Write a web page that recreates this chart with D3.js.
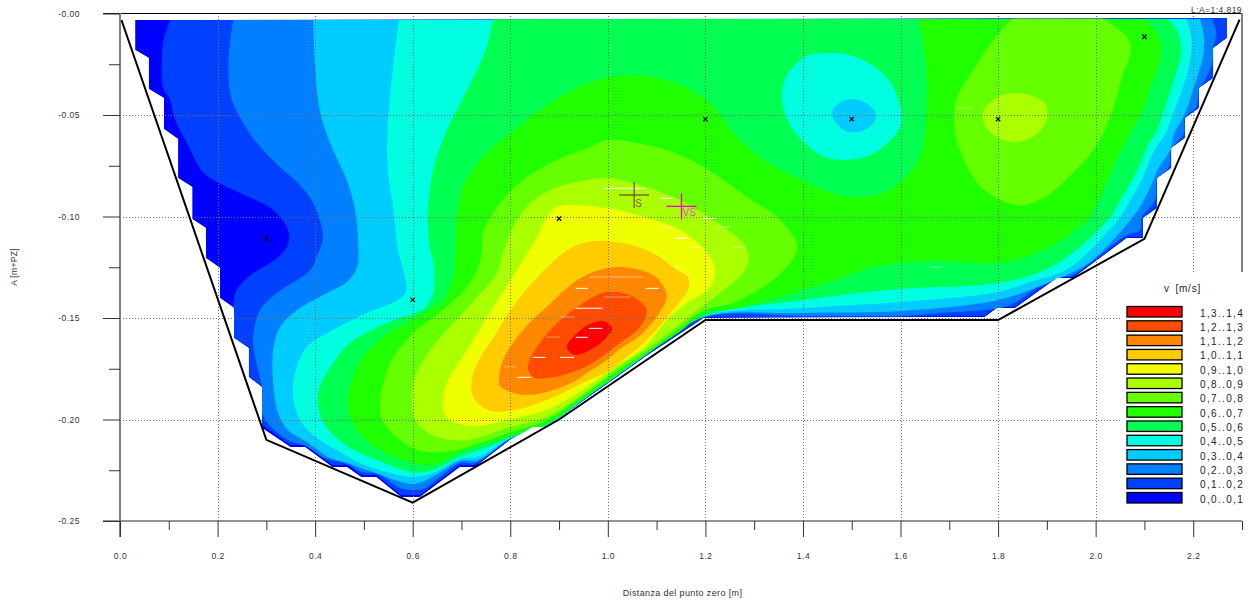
<!DOCTYPE html>
<html><head><meta charset="utf-8">
<script src="https://cdn.jsdelivr.net/npm/d3@7"></script>
<style>html,body{margin:0;padding:0;background:#fff;overflow:hidden}svg{display:block}text{font-family:"Liberation Sans",Arial,sans-serif}</style>
</head><body><svg id="c" width="1253" height="606"></svg>
<script>
// all positions in metres: [distance, depth below zero]
const bedLine=[[0.003,.0032],[.3,.21],[.6,.241],[.9,.2],[1.2,.151],[1.8,.151],[2.1,.111],[2.295,.003]];
const samplePoints=[[.3,.111],[.6,.141],[.9,.101],[1.2,.052],[1.5,.052],[1.8,.052],[2.1,.0115]];
const bandColors=["#0000ff","#0040ff","#0080ff","#00ccff","#00ffe0","#00ff50","#20ff00","#66ff00","#aaff00","#f0ff00","#ffcc00","#ff8800","#ff4c00","#ff0000"];
const bandLabels=["0,0..0,1","0,1..0,2","0,2..0,3","0,3..0,4","0,4..0,5","0,5..0,6","0,6..0,7","0,7..0,8","0,8..0,9","0,9..1,0","1,0..1,1","1,1..1,2","1,2..1,3","1,3..1,4"];
const xMajor=[0,.2,.4,.6,.8,1,1.2,1.4,1.6,1.8,2,2.2];
const xMinor=[.1,.3,.5,.7,.9,1.1,1.3,1.5,1.7,1.9,2.1,2.3];
const yMajor=[0,-.05,-.1,-.15,-.2,-.25];
const yMinor=[-.025,-.075,-.125,-.175,-.225];

const level0=[[.031,.0032],[.031,.018],[.059,.0219],[.059,.0372],[.090,.0416],[.090,.0569],[.119,.0618],[.119,.081],[.148,.0855],[.148,.1012],[.176,.1057],[.176,.1204],[.205,.1254],[.205,.1401],[.234,.1451],[.234,.1598],[.264,.1648],[.264,.1791],[.291,.184],[.291,.2042],[.349,.2135],[.379,.2135],[.435,.2234],[.465,.2234],[.494,.2283],[.525,.2283],[.576,.2382],[.615,.2382],[.697,.2234],[.728,.2234],[.8,.21],[.845,.2037],[.875,.2037],[.957,.1895],[1.019,.1791],[1.076,.1692],[1.197,.15],[1.773,.1495],[1.798,.1451],[1.835,.1451],[1.921,.1303],[1.954,.1303],[2.064,.1106],[2.097,.1106],[2.097,.1007],[2.126,.0958],[2.126,.081],[2.155,.0761],[2.155,.0663],[2.183,.0613],[2.183,.0515],[2.212,.0466],[2.212,.0367],[2.241,.0318],[2.241,.017],[2.269,.0121],[2.269,.0022]];
const level1top=[[.103,.0032],[.088,.0145],[.086,.0229],[.088,.0362],[.103,.0426],[.113,.0525],[.137,.0638],[.17,.0781],[.199,.083],[.246,.0884],[.314,.0968],[.346,.1076],[.342,.115],[.322,.1204],[.26,.1303],[.236,.1377],[.232,.1451]];
const level1edge=[[.234,.1598],[.264,.1648],[.264,.1791],[.291,.184],[.291,.2027],[.349,.2126],[.379,.2126],[.435,.2224],[.467,.2224],[.494,.2273],[.525,.2273],[.576,.2372],[.615,.2372],[.697,.2224],[.728,.2224],[.8,.2098],[.845,.2033],[.875,.2033],[.957,.1892],[1.019,.1787],[1.076,.1689],[1.197,.1498],[1.773,.149],[1.798,.1446],[1.835,.1446],[1.921,.1298],[1.954,.1298],[2.064,.1101],[2.097,.1101],[2.097,.1007],[2.126,.0958],[2.126,.081],[2.155,.0761],[2.155,.0663],[2.183,.0613],[2.183,.0515],[2.212,.0466],[2.212,.0367],[2.241,.0318],[2.241,.017],[2.269,.0121],[2.269,.0022]];
const level2=[[.232,.0032],[.223,.0214],[.226,.0392],[.24,.0485],[.281,.0638],[.328,.0756],[.369,.0845],[.4,.0953],[.416,.1106],[.406,.118],[.39,.1264],[.322,.1377],[.287,.1461],[.273,.1594],[.277,.1692],[.291,.184],[.293,.1978],[.312,.2042],[.349,.2106],[.381,.213],[.42,.219],[.467,.2219],[.496,.2259],[.529,.2268],[.574,.2337],[.601,.2347],[.621,.2342],[.656,.2283],[.697,.2214],[.73,.2214],[.8,.2096],[.875,.2032],[.957,.189],[1.019,.1786],[1.076,.1687],[1.193,.15],[1.4,.149],[1.599,.149],[1.681,.1475],[1.773,.1461],[1.825,.1436],[1.917,.1293],[1.948,.1293],[2.06,.1096],[2.091,.1066],[2.095,.1002],[2.122,.0919],[2.126,.082],[2.15,.0756],[2.155,.0672],[2.181,.0589],[2.183,.0515],[2.206,.0461],[2.212,.0377],[2.224,.0328],[2.239,.0244],[2.241,.017],[2.247,.0096],[2.239,.0027]];
const level3=[[.396,.0032],[.4,.0264],[.406,.0426],[.416,.0539],[.437,.0672],[.465,.082],[.482,.0968],[.488,.1116],[.486,.1249],[.465,.1323],[.424,.1377],[.363,.1461],[.328,.1545],[.314,.1658],[.314,.182],[.324,.1968],[.344,.2052],[.383,.2111],[.431,.219],[.472,.2219],[.513,.2254],[.601,.2318],[.64,.2283],[.697,.2204],[.734,.2199],[.8,.2094],[.875,.2031],[.957,.1889],[1.019,.1785],[1.076,.1686],[1.193,.1498],[1.4,.1475],[1.601,.1465],[1.8,.1411],[1.907,.1323],[1.986,.1229],[2.03,.1131],[2.066,.1032],[2.091,.0953],[2.112,.0855],[2.13,.0756],[2.153,.0672],[2.161,.0589],[2.179,.0515],[2.191,.0441],[2.206,.0328],[2.22,.0214],[2.222,.0116],[2.214,.0027]];
const level4=[[.572,.0032],[.56,.0264],[.549,.0559],[.549,.0771],[.56,.0953],[.57,.1165],[.584,.1298],[.586,.1372],[.57,.1411],[.506,.1475],[.437,.1559],[.383,.1643],[.359,.1771],[.355,.1889],[.369,.2002],[.404,.2091],[.451,.216],[.502,.2224],[.601,.2283],[.646,.2259],[.697,.2195],[.738,.218],[.8,.2091],[.875,.2029],[.957,.1888],[1.019,.1783],[1.076,.1685],[1.193,.1495],[1.4,.1451],[1.601,.1421],[1.8,.1372],[1.866,.1323],[1.939,.1264],[1.974,.12],[2.015,.1101],[2.05,.1002],[2.071,.0919],[2.091,.0835],[2.109,.0736],[2.124,.0658],[2.144,.0589],[2.159,.049],[2.179,.0362],[2.194,.0229],[2.196,.0116],[2.185,.0027]];
const level5=[[2.15,.0027],[2.169,.0096],[2.175,.0195],[2.161,.0328],[2.14,.0475],[2.126,.0574],[2.105,.0658],[2.095,.0722],[2.075,.082],[2.054,.0904],[2.03,.1002],[2.005,.1066],[1.96,.1165],[1.896,.1264],[1.8,.1327],[1.599,.1357],[1.4,.1411],[1.199,.149],[1.076,.1684],[1.019,.1782],[.957,.1887],[.875,.2025],[.8,.2089],[.759,.213],[.697,.2185],[.642,.2249],[.601,.2259],[.527,.22],[.457,.2116],[.414,.2002],[.406,.1869],[.437,.1722],[.472,.1623],[.547,.1525],[.605,.1475],[.625,.1451],[.642,.1377],[.644,.1264],[.64,.12],[.636,.1165],[.631,.1002],[.642,.0771],[.67,.0574],[.701,.0426],[.732,.0278],[.752,.0165],[.765,.0027]];
const islandOuter=[[1.456,.0195],[1.494,.0204],[1.535,.0244],[1.576,.0328],[1.601,.0475],[1.599,.0559],[1.556,.0672],[1.509,.0717],[1.445,.0707],[1.404,.0638],[1.371,.0539],[1.357,.0426],[1.365,.0313],[1.404,.0214]];
const islandInner=[[1.486,.0426],[1.521,.0431],[1.548,.0485],[1.546,.0534],[1.515,.0584],[1.484,.0574],[1.46,.051],[1.46,.0475]];
const level6=[[2.101,.0027],[2.13,.0116],[2.134,.0214],[2.112,.0362],[2.099,.0461],[2.064,.0623],[2.036,.0756],[2.009,.0904],[1.984,.1017],[1.958,.1066],[1.921,.1131],[1.851,.1204],[1.8,.1229],[1.667,.1219],[1.599,.1229],[1.538,.1254],[1.456,.1323],[1.4,.1362],[1.271,.1451],[1.199,.1475],[1.148,.1566],[1.076,.1682],[1.019,.1778],[.957,.1884],[.875,.202],[.8,.2081],[.759,.2111],[.697,.216],[.642,.2224],[.601,.2214],[.533,.215],[.486,.2052],[.467,.1938],[.486,.1741],[.539,.1594],[.609,.1495],[.662,.1411],[.683,.1298],[.687,.1165],[.691,.1002],[.703,.0855],[.744,.0707],[.8,.0589],[.902,.0411],[.978,.0328],[1.046,.0303],[1.121,.0328],[1.201,.0426],[1.265,.0608],[1.32,.0722],[1.396,.082],[1.46,.0884],[1.509,.0904],[1.564,.0884],[1.605,.082],[1.64,.0707],[1.65,.0589],[1.654,.0426],[1.654,.0313],[1.646,.0145],[1.636,.0027]];
const level7=[[.998,.0623],[1.08,.0648],[1.148,.0697],[1.216,.0786],[1.285,.0904],[1.353,.1017],[1.388,.115],[1.367,.1249],[1.318,.1347],[1.257,.1426],[1.199,.1461],[1.148,.1549],[1.076,.1672],[1.019,.1761],[.957,.187],[.875,.2002],[.8,.2062],[.744,.2111],[.677,.2155],[.609,.215],[.547,.2037],[.533,.1953],[.554,.1722],[.601,.1574],[.662,.1461],[.711,.1347],[.732,.1264],[.742,.1165],[.744,.1081],[.773,.0953],[.826,.082],[.896,.0722],[.964,.0658]];
const level7right=[[2.015,.0025],[2.064,.0116],[2.073,.018],[2.054,.0313],[2.03,.051],[1.995,.0672],[1.945,.0805],[1.896,.0904],[1.855,.0943],[1.82,.0933],[1.765,.0855],[1.73,.0722],[1.712,.0589],[1.714,.0426],[1.749,.0278],[1.786,.0145],[1.829,.0025]];
const level8=[[.998,.081],[1.066,.0845],[1.148,.0919],[1.216,.1017],[1.277,.1131],[1.289,.1204],[1.277,.1278],[1.23,.1377],[1.189,.1451],[1.148,.153],[1.076,.1658],[1.019,.1746],[.957,.186],[.875,.1988],[.8,.2037],[.711,.2101],[.65,.2086],[.609,.2017],[.599,.1938],[.605,.1791],[.636,.1658],[.683,.1525],[.732,.1397],[.773,.1278],[.787,.1165],[.81,.1032],[.841,.0933],[.882,.0869],[.937,.083]];
const level8right=[[1.841,.0392],[1.876,.0411],[1.896,.0441],[1.9,.0525],[1.87,.0608],[1.829,.0633],[1.779,.0574],[1.769,.049],[1.8,.0411]];
const level9=[[.896,.0953],[.998,.0958],[1.08,.1007],[1.148,.1066],[1.203,.1175],[1.22,.1264],[1.21,.1347],[1.162,.1426],[1.121,.151],[1.076,.1643],[1.019,.1732],[.957,.184],[.875,.1953],[.8,.1998],[.724,.2032],[.67,.1993],[.662,.1919],[.67,.182],[.711,.1658],[.765,.1446],[.82,.1239],[.855,.1101],[.875,.1002]];
const level10=[[.97,.1121],[1.031,.1131],[1.093,.118],[1.142,.1264],[1.164,.1298],[1.166,.1352],[1.134,.1461],[1.076,.1618],[1.025,.1718],[.998,.1766],[.957,.181],[.875,.1904],[.8,.1958],[.754,.1953],[.724,.1889],[.722,.1791],[.738,.1697],[.769,.1584],[.8,.1461],[.841,.1337],[.896,.1204],[.929,.115]];
const level11=[[1.019,.1249],[1.066,.1264],[1.101,.1303],[1.121,.1387],[1.113,.1446],[1.072,.1574],[1.025,.1653],[.998,.1707],[.957,.1771],[.929,.1815],[.875,.1864],[.834,.1879],[.8,.1864],[.779,.1835],[.777,.1796],[.785,.1707],[.826,.1559],[.875,.1446],[.929,.1328],[.97,.1274]];
const level12=[[.998,.1372],[1.031,.1377],[1.062,.1411],[1.08,.1461],[1.066,.1544],[1.025,.1623],[.978,.1707],[.929,.1766],[.875,.1796],[.847,.1791],[.836,.1741],[.855,.1643],[.888,.1544],[.937,.1446],[.978,.1387]];
const level13=[[.99,.1515],[1.009,.1549],[.998,.1594],[.974,.1643],[.933,.1682],[.916,.1643],[.933,.1584],[.959,.1535]];
// short white gaps in the fill: [from, to, depth]
const gapsBright=[[.992,1.076,.0861],[.934,.959,.1354],[1.078,1.105,.1354],[.934,.989,.1452],[.961,.989,.1551],[.934,.959,.1595],[.846,.873,.1694],[.902,.931,.1694],[.814,.843,.1792],[1.193,1.222,.1009],[1.136,1.164,.1107],[1.107,1.133,.091]];
const gapsFaint=[[1.166,1.191,.1152],[1.253,1.279,.115],[.875,.902,.1594],[.904,.931,.1495],[.992,1.047,.1397],[.963,1.074,.1298],[.787,.812,.1741],[1.11,1.132,.1052],[1.224,1.251,.1052],[1.136,1.152,.1249],[1.716,1.743,.0466],[1.661,1.687,.1249]];
const sPoint=[1.054,.0894], vsPoint=[1.151,.095];

const svg=d3.select("#c");
const x=d3.scaleLinear().domain([0,2.3]).range([120,1242]);
const y=d3.scaleLinear().domain([0,-.25]).range([13.5,521]);
const px=d=>x(d[0]), py=d=>y(-d[1]);
const line=d3.line().x(px).y(py);
const smoothOpen=d3.line().x(px).y(py).curve(d3.curveCatmullRom.alpha(.5));
const smoothClosed=d3.line().x(px).y(py).curve(d3.curveCatmullRomClosed.alpha(.5));
const fromTop=o=>smoothOpen(o)+"Z";                 // touches the top edge: straight closing
const mixed=(a,b)=>smoothOpen(a)+line(b).replace(/^M/,"L")+"Z";

const clip=svg.append("defs").append("clipPath").attr("id","wet");
clip.append("path").attr("d",line(level0)+"Z");

const bandShapes=[
 [0,line(level0)+"Z"],[1,mixed(level1top,level1edge)],[2,fromTop(level2)],[3,fromTop(level3)],[4,fromTop(level4)],[5,fromTop(level5)],
 [4,smoothClosed(islandOuter)],[3,smoothClosed(islandInner)],[6,fromTop(level6)],[7,smoothClosed(level7)],[7,fromTop(level7right)],
 [8,smoothClosed(level8)],[8,smoothClosed(level8right)],[9,smoothClosed(level9)],[10,smoothClosed(level10)],[11,smoothClosed(level11)],[12,smoothClosed(level12)],[13,smoothClosed(level13)]];
svg.append("g").attr("clip-path","url(#wet)").selectAll("path").data(bandShapes).join("path").attr("d",d=>d[1]).attr("fill",d=>bandColors[d[0]]);
const gaps=(data,op,sw)=>svg.append("g").selectAll("line").data(data).join("line").attr("x1",d=>x(d[0])).attr("x2",d=>x(d[1])).attr("y1",d=>y(-d[2])).attr("y2",d=>y(-d[2])).attr("stroke","#fff").attr("stroke-opacity",op).attr("stroke-width",sw);
gaps(gapsBright,1,1);gaps(gapsFaint,.45,1);

// grid
const grid=svg.append("g").attr("stroke","#707070").attr("stroke-width",1).attr("stroke-dasharray","1,2");
grid.selectAll(".h").data([-.05,-.1,-.15,-.2]).join("line").attr("x1",120).attr("x2",1242).attr("y1",d=>Math.round(y(d))+.5).attr("y2",d=>Math.round(y(d))+.5);
grid.selectAll(".v").data(xMajor.slice(1)).join("line").attr("y1",13).attr("y2",521).attr("x1",d=>Math.round(x(d))+.5).attr("x2",d=>Math.round(x(d))+.5);

// bed
svg.append("path").attr("d",line(bedLine)).attr("fill","none").attr("stroke","#000").attr("stroke-width",2);

// samples
svg.append("g").selectAll("path").data(samplePoints).join("path").attr("transform",d=>`translate(${x(d[0])},${y(-d[1])})`).attr("d",d3.symbol().type(d3.symbolTimes).size(14)).attr("stroke","#000").attr("stroke-width",1.2).attr("fill","none");

// S and VS crosses
function cross(p,col,lab,labCol,dx,dy,hw,hh){
 const g=svg.append("g").attr("stroke",col).attr("stroke-width",1.3);
 g.append("line").attr("x1",x(p[0])-hw).attr("x2",x(p[0])+hw).attr("y1",y(-p[1])).attr("y2",y(-p[1]));
 g.append("line").attr("x1",x(p[0])).attr("x2",x(p[0])).attr("y1",y(-p[1])-hh).attr("y2",y(-p[1])+hh);
 svg.append("text").attr("x",x(p[0])+dx).attr("y",y(-p[1])+dy).attr("font-size",10).attr("fill",labCol).text(lab);
}
cross(sPoint,"#804a30","S","#a0522d",1,12,15,13);
cross(vsPoint,"#f000d8","VS","#e050c0",1,10,15,13);

// legend mask
svg.append("rect").attr("x",1122).attr("y",272).attr("width",131).attr("height",248).attr("fill","#fff");

// axes lines
svg.append("line").attr("x1",103).attr("x2",1242).attr("y1",13.5).attr("y2",13.5).attr("stroke","#000").attr("stroke-width",1);
svg.append("line").attr("x1",120).attr("x2",120).attr("y1",13).attr("y2",537).attr("stroke","#808080").attr("stroke-width",2);
svg.append("line").attr("x1",1242).attr("x2",1242).attr("y1",13).attr("y2",272).attr("stroke","#808080").attr("stroke-width",2);
svg.append("line").attr("x1",103).attr("x2",1242).attr("y1",521).attr("y2",521).attr("stroke","#707070").attr("stroke-width",1.5);

function style(g){g.select(".domain").remove();g.selectAll("line").attr("stroke","#333");g.selectAll("text").attr("fill","#333").attr("font-size",8.5).attr("letter-spacing",".5").attr("font-family",'"Liberation Sans",Arial,sans-serif');}
svg.append("g").attr("transform","translate(0,521)").call(d3.axisBottom(x).tickValues(xMajor).tickSize(16).tickPadding(16).tickFormat(d3.format(".1f"))).call(style);
svg.append("g").attr("transform","translate(0,521)").call(d3.axisBottom(x).tickValues(xMinor).tickSize(9).tickFormat("")).call(style);
svg.append("g").attr("transform","translate(120,0)").call(d3.axisLeft(y).tickValues(yMajor).tickSize(17).tickPadding(23).tickFormat(d=>(d===0?"-0.00":d3.format(".2f")(d).replace("−","-")))).call(style);
svg.append("g").attr("transform","translate(120,0)").call(d3.axisLeft(y).tickValues(yMinor).tickSize(11).tickFormat("")).call(style);

svg.append("text").attr("x",682.5).attr("y",596).attr("text-anchor","middle").attr("font-size",9).attr("letter-spacing",".37").attr("fill","#333").text("Distanza del punto zero [m]");
svg.append("text").attr("transform","translate(17,267) rotate(-90)").attr("text-anchor","middle").attr("font-size",8.5).attr("letter-spacing",".3").attr("fill","#333").text("A [m+PZ]");
svg.append("text").attr("x",1191).attr("y",13).attr("font-size",8.5).attr("letter-spacing",".45").attr("fill","#333").text("L:A=1:4.819");

// legend
svg.append("text").attr("x",1164).attr("y",292).attr("font-size",10).attr("letter-spacing",".8").attr("word-spacing","2").attr("fill","#222").text("v [m/s]");
const rows=d3.range(14).reverse();
const ly=d3.scalePoint().domain(rows).range([306,492]);
const lg=svg.append("g").selectAll("g").data(rows).join("g").attr("transform",d=>`translate(0,${ly(d)})`);
lg.append("rect").attr("x",1127).attr("y",.5).attr("width",55).attr("height",10.5).attr("fill",d=>bandColors[d]).attr("stroke","#000").attr("stroke-width",1.3);
lg.append("text").attr("x",1200).attr("y",10.5).attr("font-size",10).attr("letter-spacing","1.35").attr("fill","#222").text(d=>bandLabels[d]);
</script></body></html>
